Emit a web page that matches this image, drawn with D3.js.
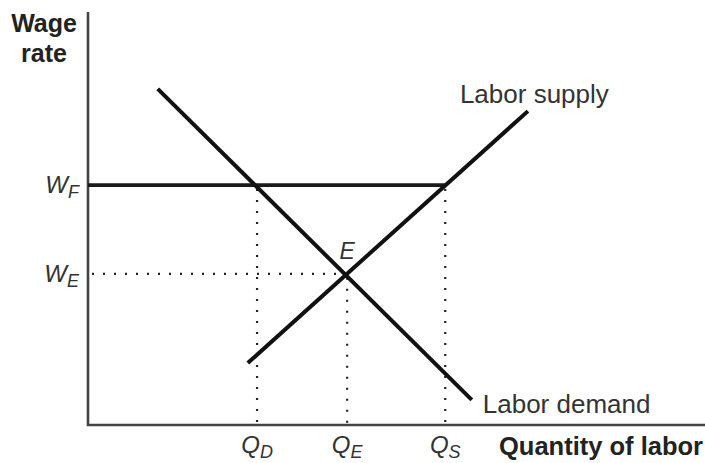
<!DOCTYPE html>
<html lang="en">
<head>
    <meta charset="UTF-8">
    <title>labor market</title>
    <script src="https://d3js.org/d3.v7.min.js"></script>
    <style>
        body{
            margin: 0;
            background: #fff;
        }
        text{
            font-family: "Liberation Sans", Arial, sans-serif;
        }
        .bold{
            font-weight: bold;
            fill: #222;
        }
        .curve-label{
            fill: #333;
        }
        .tick-label{
            font-style: italic;
            fill: #333;
        }
    </style>
</head>
<body>

<svg id="chart" width="705" height="463"></svg>

<script>
    // values (abstract units, axes 0..10)
    let quantityNames = ["D", "E", "S"];
    let quantityValues = [2.74, 4.20, 5.79];

    let wageNames = ["F", "E"];
    let wageValues = [5.81, 3.66];

    let demandQ = [1.13, 6.22];
    let demandW = [8.14, 0.61];
    let supplyQ = [2.59, 7.13];
    let supplyW = [1.50, 7.60];

    let svg = d3.select("#chart")

    let x = d3.scaleLinear().domain([0, 10]).range([88, 705])
    let y = d3.scaleLinear().domain([0, 10]).range([425, 12])

    let line = d3.line()
        .x(function (d){ return x(d[0]) })
        .y(function (d){ return y(d[1]) })

    // axes
    svg.append("path")
        .attr("d", line([[0, 10], [0, 0], [10, 0]]))
        .attr("fill", "none")
        .attr("stroke", "#444")
        .attr("stroke-width", 2.6)

    // dotted guides
    let wF = wageValues[0], wE = wageValues[1]
    let qD = quantityValues[0], qE = quantityValues[1], qS = quantityValues[2]
    let guides = [
        [[qD, wF], [qD, 0]],
        [[qS, wF], [qS, 0]],
        [[qE, wE], [qE, 0]],
        [[0, wE], [qE, wE]]
    ]
    svg.selectAll(".guide")
        .data(guides)
        .join("path")
        .attr("class", "guide")
        .attr("d", line)
        .attr("fill", "none")
        .attr("stroke", "#222")
        .attr("stroke-width", 2.2)
        .attr("stroke-dasharray", "2,9")
        .attr("stroke-dashoffset", -4)

    // wage floor
    svg.append("path")
        .attr("d", line([[0, wF], [qS, wF]]))
        .attr("stroke", "#1a1a1a")
        .attr("stroke-width", 3.8)

    // demand and supply
    let demand = d3.zip(demandQ, demandW)
    let supply = d3.zip(supplyQ, supplyW)
    svg.selectAll(".curve")
        .data([demand, supply])
        .join("path")
        .attr("class", "curve")
        .attr("d", line)
        .attr("fill", "none")
        .attr("stroke", "#111")
        .attr("stroke-width", 4)

    // curve labels
    svg.append("text")
        .attr("class", "curve-label")
        .attr("x", x(supplyQ[1]) - 68)
        .attr("y", y(supplyW[1]) - 8)
        .attr("font-size", 26)
        .text("Labor supply")

    svg.append("text")
        .attr("class", "curve-label")
        .attr("x", x(demandQ[1]) + 11)
        .attr("y", y(demandW[1]) + 13)
        .attr("font-size", 26)
        .text("Labor demand")

    svg.append("text")
        .attr("class", "tick-label")
        .attr("x", x(qE))
        .attr("y", y(wE) - 15)
        .attr("text-anchor", "middle")
        .attr("font-size", 23)
        .text("E")

    // quantity tick labels
    let qLabels = svg.selectAll(".qlab")
        .data(d3.zip(quantityNames, quantityValues))
        .join("text")
        .attr("class", "tick-label qlab")
        .attr("x", function (d){ return x(d[1]) })
        .attr("y", 453)
        .attr("text-anchor", "middle")
        .attr("font-size", 24)
    qLabels.append("tspan").text("Q")
    qLabels.append("tspan")
        .attr("font-size", 18)
        .attr("dy", 5)
        .text(function (d){ return d[0] })

    // wage tick labels
    let wLabels = svg.selectAll(".wlab")
        .data(d3.zip(wageNames, wageValues))
        .join("text")
        .attr("class", "tick-label wlab")
        .attr("x", 79)
        .attr("y", function (d){ return y(d[1]) + 8 })
        .attr("text-anchor", "end")
        .attr("font-size", 24)
    wLabels.append("tspan").text("W")
    wLabels.append("tspan")
        .attr("font-size", 18)
        .attr("dy", 5)
        .text(function (d){ return d[0] })

    // axis titles
    let yTitle = svg.append("text")
        .attr("class", "bold")
        .attr("text-anchor", "middle")
        .attr("font-size", 25)
    yTitle.append("tspan").attr("x", 44).attr("y", 32).text("Wage")
    yTitle.append("tspan").attr("x", 44).attr("y", 62).text("rate")

    svg.append("text")
        .attr("class", "bold")
        .attr("x", 703)
        .attr("y", 455)
        .attr("text-anchor", "end")
        .attr("font-size", 25.5)
        .text("Quantity of labor")
</script>

</body>
</html>
